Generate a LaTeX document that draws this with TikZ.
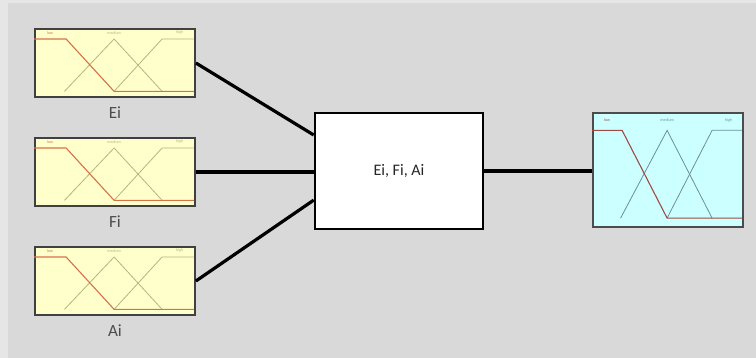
\documentclass[tikz,border=0pt]{standalone}
\usepackage{fontspec}
\setmainfont{Carlito}
\usepackage{tikz}
\usetikzlibrary{positioning,calc}
\definecolor{pagegray}{HTML}{D9D9D9}
\definecolor{edgegray}{HTML}{E6E6E6}
\definecolor{mfyellow}{HTML}{FFFFCC}
\definecolor{mfcyan}{HTML}{CCFFFF}
\definecolor{lowin}{HTML}{D8704A}
\definecolor{otherin}{HTML}{B2B87A}
\definecolor{lowout}{HTML}{A04A44}
\definecolor{otherout}{HTML}{6E9098}
\tikzset{
  inbox/.style={draw=black!75,line width=1.8pt,fill=mfyellow,minimum width=56mm,minimum height=23.8mm,inner sep=0pt},
  outbox/.style={draw=black!70,line width=1.8pt,fill=mfcyan,minimum width=52.5mm,minimum height=39.9mm,inner sep=0pt},
  rulebox/.style={draw,line width=2.6pt,fill=white,minimum width=58.8mm,minimum height=40.6mm,align=center,font=\fontsize{16}{18}\selectfont,text=black!85},
  varlabel/.style={font=\fontsize{17}{19}\selectfont,text=black!70},
  conn/.style={line width=3.2pt},
  mftext/.style={font=\fontsize{4}{4}\selectfont,inner sep=0pt},
}
% membership functions drawn inside a box, coordinates as fractions of the box
\newcommand{\mfset}[5]{%
  \begin{scope}[shift={(#1.north west)},x=#2,y=-#3]
    \node[mftext,text=#4] at (0.1,0.07) {low};
    \node[mftext,text=#5] at (0.5,0.07) {medium};
    \node[mftext,text=#5] at (0.91,0.07) {high};
    \draw[#5,line width=0.8pt] (0.19,0.93) -- (0.5,0.16) -- (0.8,0.93);
    \draw[#5,line width=0.8pt] (0.5,0.93) -- (0.8,0.16) -- (1,0.16);
    \draw[#4,line width=1.1pt] (0,0.16) -- (0.2,0.16) -- (0.5,0.93) -- (1,0.93);
  \end{scope}}

\begin{document}
\begin{tikzpicture}[x=0.35mm,y=-0.35mm]
\useasboundingbox (0,0) rectangle (756,358);
\fill[edgegray] (0,0) rectangle (756,358);
\fill[pagegray] (8,3) rectangle (756,358);

% inputs
\node[inbox] (ei) at (115,63) {};
\node[inbox] (fi) at (115,172) {};
\node[inbox] (ai) at (115,281) {};
\node[varlabel, below=1.8mm of ei] (eilab) {Ei};
\node[varlabel, below=1.8mm of fi] (filab) {Fi};
\node[varlabel, below=1.8mm of ai] (ailab) {Ai};
\mfset{ei}{56mm}{23.8mm}{lowin}{otherin}
\mfset{fi}{56mm}{23.8mm}{lowin}{otherin}
\mfset{ai}{56mm}{23.8mm}{lowin}{otherin}

% rule block and output
\node[rulebox] (core) at (399,171) {Ei, Fi, Ai};
\node[outbox] (out) at (668,170) {};
\mfset{out}{52.5mm}{39.9mm}{lowout}{otherout}

\coordinate (core1) at ([yshift=12.6mm]core.west);
\coordinate (core3) at ([yshift=-10.2mm]core.west);
\draw[conn] (ei.east) -- (core1);
\draw[conn] (fi.east) -- (fi.east -| core.west);
\draw[conn] (ai.east) -- (core3);
\draw[conn] (core.east) -- (core.east -| out.west);

\end{tikzpicture}
\end{document}
